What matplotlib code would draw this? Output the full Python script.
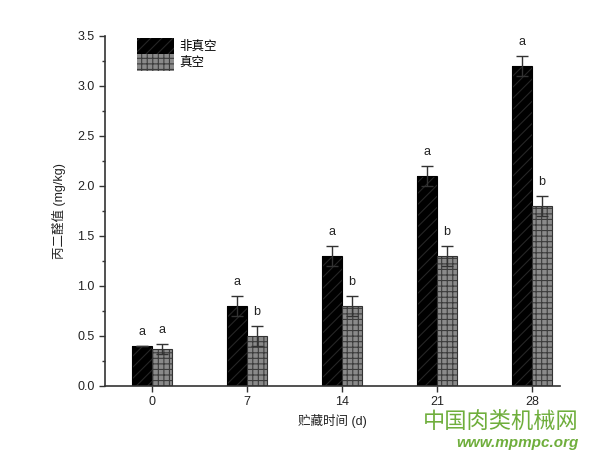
import matplotlib.pyplot as plt
import numpy as np

plt.rcParams['font.family'] = ['Liberation Sans', 'Noto Sans CJK SC', 'DejaVu Sans']
plt.rcParams['hatch.linewidth'] = 0.8

# data
days = ['0', '7', '14', '21', '28']
nonVacuum = [0.40, 0.80, 1.30, 2.10, 3.20]
nonVacuumErr = [0.00, 0.10, 0.10, 0.10, 0.10]
vacuum = [0.37, 0.50, 0.80, 1.30, 1.80]
vacuumErr = [0.05, 0.10, 0.10, 0.10, 0.10]
nonVacuumLetters = ['a', 'a', 'a', 'a', 'a']
vacuumLetters = ['a', 'b', 'b', 'b', 'b']

figureWidth = 6
figureHeight = 4.62
fig = plt.figure(figsize=(figureWidth, figureHeight), dpi=100)
ax = fig.add_axes([105/600, 1-386/462, 455/600, 350/462])

x = np.arange(len(days))
w = 0.21
axisColor = '#333333'

# black bars with faint diagonal hatch
ax.bar(x - w/2, nonVacuum, w, color='black', edgecolor='#262626', hatch='///', linewidth=0, label='非真空')
ax.bar(x - w/2, nonVacuum, w, fill=False, edgecolor='black', linewidth=0.8)
# grey bars with grid hatch
ax.bar(x + w/2, vacuum, w, color='#8a8a8a', edgecolor='#3c3c3c', hatch='+++', linewidth=0, label='真空')
ax.bar(x + w/2, vacuum, w, fill=False, edgecolor='#333333', linewidth=0.8)

ax.errorbar(x - w/2, nonVacuum, yerr=nonVacuumErr, fmt='none', ecolor='#333333', elinewidth=1, capsize=4, capthick=1)
ax.errorbar(x + w/2, vacuum, yerr=vacuumErr, fmt='none', ecolor='#333333', elinewidth=1, capsize=4, capthick=1)

for i in range(len(days)):
    ax.text(x[i] - w/2, nonVacuum[i] + nonVacuumErr[i] + 0.08, nonVacuumLetters[i], ha='center', va='bottom', fontsize=9, color='#222222')
    ax.text(x[i] + w/2, vacuum[i] + vacuumErr[i] + 0.08, vacuumLetters[i], ha='center', va='bottom', fontsize=9, color='#222222')

ax.set_xlim(-0.495, 4.295)
ax.set_ylim(0, 3.5)
ax.set_xticks(x)
ax.set_xticklabels(days)
ax.set_yticks(np.arange(0, 3.51, 0.5))
ax.set_yticklabels(['%.1f' % v for v in np.arange(0, 3.51, 0.5)])
ax.set_yticks(np.arange(0.25, 3.5, 0.5), minor=True)

for side in ['top', 'right']:
    ax.spines[side].set_visible(False)
for side in ['left', 'bottom']:
    ax.spines[side].set_color(axisColor)
    ax.spines[side].set_linewidth(1.2)
ax.tick_params(axis='both', which='major', direction='out', length=4, width=1, color=axisColor, labelsize=9, labelcolor='#222222')
ax.tick_params(axis='y', which='minor', direction='out', length=2.5, width=1, color=axisColor)

ax.set_xlabel('贮藏时间 (d)', fontsize=9, color='#222222', labelpad=4)
ax.set_ylabel('丙二醛值 (mg/kg)', fontsize=9, color='#222222', labelpad=8)

leg = ax.legend(loc='upper left', bbox_to_anchor=(0.05, 1.02), frameon=False, fontsize=9,
                handlelength=3.0, handleheight=1.6, handletextpad=0.4, labelspacing=0.05, borderpad=0.2)

# site watermark
fig.text(501/600, 1-421/462, '中国肉类机械网', fontsize=16, color='#6fae3c', ha='center', va='center',
         family=['Noto Sans CJK SC', 'DejaVu Sans'])
fig.text(517/600, 1-443/462, 'www.mpmpc.org', fontsize=11, color='#6fae3c', ha='center', va='center',
         style='italic', weight='bold')

plt.savefig('out.png', dpi=100)
